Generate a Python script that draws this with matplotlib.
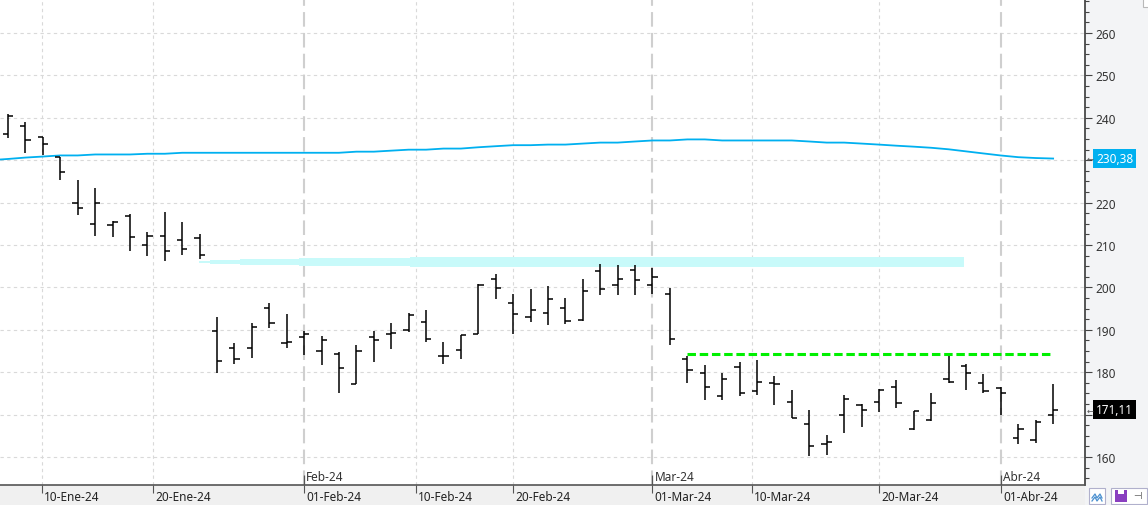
import numpy as np
import matplotlib
matplotlib.use('Agg')
from matplotlib import pyplot as plt
from matplotlib.patches import Rectangle
from matplotlib.lines import Line2D
from matplotlib.transforms import ScaledTranslation
from matplotlib.ticker import MultipleLocator, FuncFormatter

plt.rcParams['font.family'] = ['Noto Sans', 'DejaVu Sans']

# daily bars, one entry per session (index 0 = first bar on screen)
opens = [236.2, 238.1, 235.4, 230.7, 219.9, 215.0, 214.75, 216.9, 209.9, 212.2,
         211.2, 211.7, 189.6, 185.6, 185.6, 195.2, 186.8, 188.4, 184.9, 184.2,
         177.1, 188.2, 188.9, 190.05, 191.9, 183.9, 185.2, 188.9, 202.05, 196.2,
         193.1, 193.9, 195.2, 192.2, 203.9, 200.5, 204.2, 200.5, 198.5, 183.0,
         179.8, 174.3, 181.3, 175.5, 177.5, 172.9, 167.7, 163.0, 170.0, 172.2,
         172.9, 176.4, 166.5, 168.7, 178.5, 181.5, 177.4, 176.2, 164.6, 164.0,
         170.0]
highs = [240.9, 239.0, 235.4, 230.7, 225.4, 223.5, 215.7, 217.3, 213.1, 217.8,
         215.45, 212.6, 192.9, 186.8, 191.5, 196.2, 193.8, 189.7, 188.6, 184.7,
         186.3, 189.8, 191.5, 194.0, 194.75, 187.2, 188.8, 200.9, 203.1, 198.5,
         199.5, 200.4, 197.6, 201.9, 205.6, 205.25, 205.2, 204.5, 199.8, 183.8,
         181.6, 179.9, 182.5, 182.8, 179.2, 175.9, 171.0, 165.2, 174.6, 172.5,
         176.0, 178.05, 170.8, 175.2, 184.2, 181.9, 179.5, 176.5, 167.7, 168.7,
         177.2]
lows = [235.2, 231.8, 231.1, 225.25, 217.0, 212.1, 211.8, 208.5, 207.4, 206.2,
        207.6, 206.75, 179.9, 182.0, 183.4, 190.4, 185.7, 184.1, 181.7, 175.0,
        177.1, 182.5, 185.5, 189.4, 187.05, 182.0, 183.1, 188.9, 197.25, 188.9,
        191.8, 191.1, 191.4, 192.0, 198.2, 198.2, 198.2, 198.5, 186.4, 177.5,
        173.5, 173.5, 174.4, 174.7, 172.3, 169.2, 160.3, 160.5, 165.7, 167.1,
        170.7, 171.65, 166.35, 168.6, 177.4, 175.8, 175.2, 169.9, 163.1, 163.2,
        167.8]
closes = [240.5, 234.75, 233.9, 227.3, 218.75, 219.9, 215.45, 211.8, 212.2, 208.6,
          209.1, 207.7, 182.6, 183.2, 190.75, 191.5, 187.2, 188.9, 187.7, 180.9,
          184.9, 187.5, 189.3, 193.6, 187.8, 183.9, 188.8, 200.5, 199.9, 193.8,
          194.75, 197.3, 192.0, 199.1, 199.7, 202.05, 201.8, 202.5, 187.9, 180.6,
          176.4, 178.5, 175.2, 177.8, 177.3, 169.25, 162.5, 163.5, 173.6, 171.2,
          175.8, 172.65, 170.8, 172.7, 177.6, 179.8, 175.6, 175.1, 166.6, 168.3,
          171.11]

# long moving average, first value belongs to the session before bar 0
ma_start = -1
ma_values = [230.0, 230.28, 230.61, 230.85, 231.11, 231.11, 231.34, 231.34, 231.34,
             231.51, 231.51, 231.74, 231.74, 231.74, 231.74, 231.74, 231.74, 231.74,
             231.74, 231.74, 231.74, 232.0, 232.0, 232.24, 232.47, 232.47, 232.73,
             232.73, 233.04, 233.29, 233.53, 233.53, 233.67, 233.67, 233.91, 234.14,
             234.14, 234.4, 234.64, 234.64, 234.89, 234.89, 234.64, 234.64, 234.64,
             234.64, 234.64, 234.4, 234.14, 234.14, 233.91, 233.67, 233.41, 233.18,
             232.92, 232.56, 232.07, 231.58, 231.1, 230.7, 230.5, 230.38]

# support zone (bar index, upper edge, lower edge)
zone_x = [10.96, 11.6, 13.3, 16.7, 23.1, 54.9]
zone_top = [206.12, 206.35, 206.59, 206.82, 207.06, 207.06]
zone_bot = [205.72, 205.48, 205.25, 205.0, 204.77, 204.77]

# resistance line
res_level = 184.2
res_from, res_to = 39, 60

date_ticks = [1.96, 8.33, 17.0, 23.4, 29.02, 37.0, 42.7, 50.02, 57.03]
date_labels = ['10-Ene-24', '20-Ene-24', '01-Feb-24', '10-Feb-24', '20-Feb-24',
               '01-Mar-24', '10-Mar-24', '20-Mar-24', '01-Abr-24']
month_labels = {'01-Feb-24': 'Feb-24', '01-Mar-24': 'Mar-24', '01-Abr-24': 'Abr-24'}

last_ma = ma_values[-1]
last_close = closes[-1]

FS = 8.5
W, H = 1148, 506
fig = plt.figure(figsize=(W / 100, H / 100), dpi=100, facecolor='#f3f4f6')
ax = fig.add_axes([0, 20 / H, 1085 / W, 486 / H])
ax.set_xlim(-0.46, 61.83)
ax.set_ylim(153.4, 268.0)


def off(dx, dy):
    return ScaledTranslation(dx / 100, dy / 100, fig.dpi_scale_trans)


def fig_rect(x0, y0, x1, y1, **kw):
    fig.patches.append(Rectangle((x0 / W, 1 - y1 / H), (x1 - x0) / W, (y1 - y0) / H,
                                 transform=fig.transFigure, **kw))


# bottom date strip (behind the axes so the date texts stay on top)
fig_rect(0, 486, 1085, 506, facecolor='#f0f0f0', edgecolor='none', zorder=-5)

# grid
for v in range(160, 261, 10):
    ax.axhline(v, color='#d9d9d9', lw=0.8, ls=(0, (3, 3)), zorder=0)
for pos, lab in zip(date_ticks, date_labels):
    if lab in month_labels:
        ax.axvline(pos, color='#cfcfcf', lw=1.5, ls=(0, (7, 3)), zorder=0)
    else:
        ax.axvline(pos, color='#d9d9d9', lw=0.8, ls=(0, (3, 3)), zorder=0)

ax.fill_between(zone_x, zone_bot, zone_top, step='post', color='#c8fafa', lw=0, zorder=1)

ma_x = np.arange(len(ma_values)) + ma_start
ax.plot(ma_x, ma_values, color='#00b0f0', lw=1.3, zorder=2)

x = np.arange(len(opens))
tw = 0.3
ax.vlines(x, lows, highs, color='black', lw=1.1, zorder=3)
ax.hlines(opens, x - tw, x, color='black', lw=1.1, zorder=3)
ax.hlines(closes, x, x + tw, color='black', lw=1.1, zorder=3)

ax.plot([res_from, res_to], [res_level, res_level], color='#00f000', lw=2.2,
        ls=(0, (2.77, 1.23)), solid_capstyle='butt', zorder=4)

# axes styling
for s in ['top', 'left']:
    ax.spines[s].set_visible(False)
ax.spines['right'].set_color('#3a3a3a')
ax.spines['right'].set_linewidth(1.2)
ax.spines['bottom'].set_color('#555555')
ax.spines['bottom'].set_linewidth(1.2)

# price scale; the levels under the value tags are not labelled
tag_values = [last_ma, last_close]


def price_fmt(v, pos):
    if any(abs(v - t) < 5 for t in tag_values):
        return ''
    return f'{v:.0f}'


ax.yaxis.tick_right()
ax.set_yticks(range(160, 261, 10))
ax.yaxis.set_major_formatter(FuncFormatter(price_fmt))
ax.yaxis.set_minor_locator(MultipleLocator(2.5))
ax.tick_params(axis='y', which='major', length=5, width=0.8, color='#444444', pad=2.5,
               labelsize=FS, labelcolor='#333333')
ax.tick_params(axis='y', which='minor', length=3, width=0.8, color='#444444')

ax.set_xticks(date_ticks)
ax.set_xticklabels([])
ax.tick_params(axis='x', which='major', length=6, width=0.8, color='#555555', direction='out')

xtr = ax.get_xaxis_transform()
for pos, lab in zip(date_ticks, date_labels):
    ax.text(pos, 0, lab, transform=xtr + off(2, -12), ha='left', va='center',
            fontsize=FS, color='#222222', clip_on=False, zorder=6)
    if lab in month_labels:
        ax.vlines(pos, 0, 10 / 486, transform=xtr, color='#555555', lw=0.9, zorder=3)
        ax.text(pos, 0, month_labels[lab], transform=xtr + off(2, 8), ha='left',
                va='center', fontsize=FS, color='#333333', clip_on=False)

# last value tags on the price scale
ytr = ax.get_yaxis_transform()
for val, bg in [(last_ma, '#00b0f0'), (last_close, 'black')]:
    txt = f'{val:.2f}'.replace('.', ',')
    ax.text(1, val, txt, transform=ytr + off(11, 0), ha='left', va='center', fontsize=FS,
            color='white', bbox=dict(boxstyle='square,pad=0.25', fc=bg, ec='none'),
            clip_on=False, zorder=6)
    ax.text(1, val, '\u2190', transform=ytr + off(2, 0), ha='left', va='center',
            fontsize=6, color='#555555', clip_on=False, zorder=6)

# small toolbar buttons
fig_rect(1089, 489, 1105, 505, facecolor='white', edgecolor='#b0b0cc', lw=0.8)
fig.add_artist(Line2D(np.array([1092, 1095, 1097, 1100, 1102]) / W,
                      1 - np.array([499, 495, 499, 495, 499]) / H, color='#4a90d0', lw=0.9))
fig.add_artist(Line2D(np.array([1092, 1095, 1097, 1100, 1102]) / W,
                      1 - np.array([502, 498, 502, 498, 502]) / H, color='#4a90d0', lw=0.9))
fig_rect(1111, 489, 1147, 505, facecolor='white', edgecolor='#b0b0cc', lw=0.8)
fig_rect(1115, 491, 1127, 503, facecolor='#8a3fc0', edgecolor='none')
fig_rect(1118, 491, 1124, 495, facecolor='white', edgecolor='none')
fig.text(1137 / W, 1 - 497 / H, '\u22a3', fontsize=7, color='#444444', ha='center', va='center')
fig_rect(1143, -1, 1149, 8, facecolor='white', edgecolor='#b8b8b8', lw=0.8)

fig.savefig('out.png', dpi=100, facecolor=fig.get_facecolor())
